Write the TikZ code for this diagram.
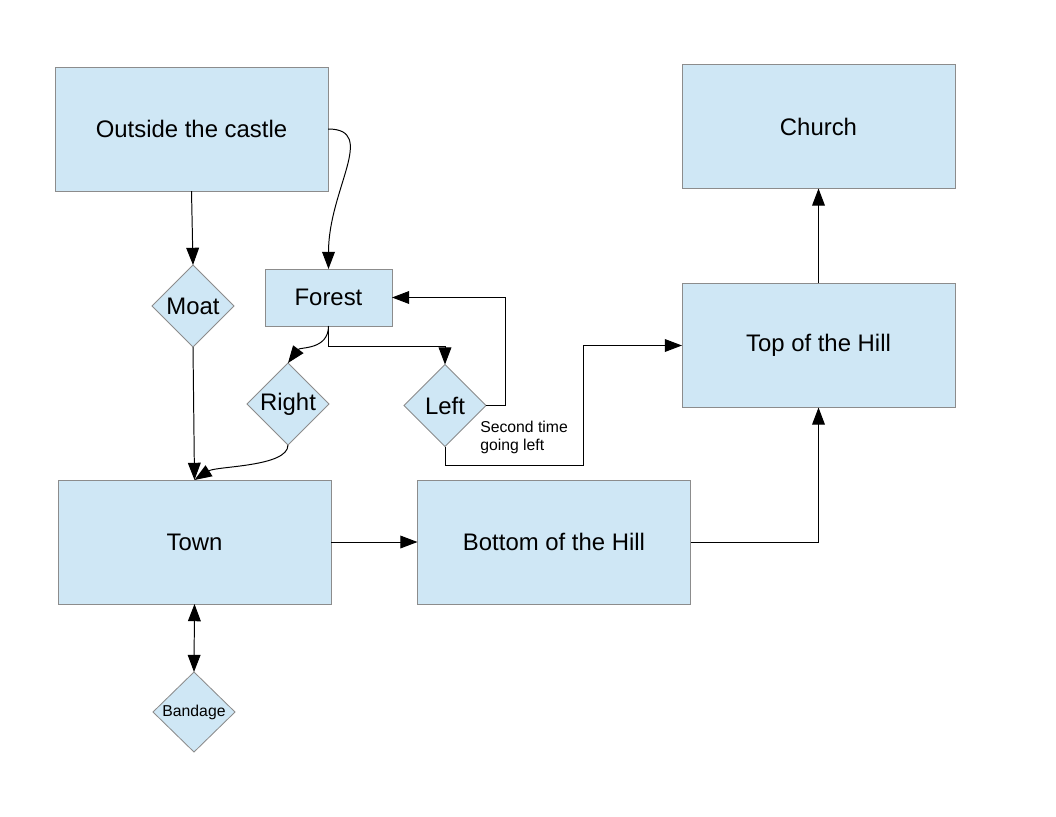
\documentclass[tikz,border=0pt]{standalone}
\usepackage{fontspec}
\setmainfont{Liberation Sans}
\usepackage{tikz}
\usetikzlibrary{shapes.geometric, arrows.meta}
\definecolor{boxfill}{HTML}{CFE7F5}
\definecolor{boxline}{HTML}{8C8C8C}

\begin{document}
\begin{tikzpicture}[x = 0.025cm, y = -0.025cm,
        >={Triangle[length = 0.43cm, width = 0.32cm]},
        place/.style = {draw = boxline, fill = boxfill, line width = 0.6pt, outer sep = 0pt,
            inner sep = 2pt, font = \fontsize{17}{20}\selectfont},
        bigplace/.style = {place, minimum width = 6.825cm, minimum height = 3.1cm},
        choice/.style = {place, diamond, aspect = 1, inner sep = 0pt, minimum width = 2.05cm, minimum height = 2.05cm},
        link/.style = {line width = 0.7pt, ->}
    ]
        \useasboundingbox (0, 0) rectangle (1056, 816);

        \node[bigplace] (outside) at (191.5, 129) {Outside the castle};
        \node[bigplace] (church) at (818.5, 126.5) {Church};
        \node[place, minimum width = 3.175cm, minimum height = 1.425cm] (forest) at (328.5, 297.5) {Forest};
        \node[choice] (moat) at (193, 306) {Moat};
        \node[choice] (right) at (288, 404) {Right};
        \node[choice] (left) at (445, 405.5) {Left};
        \node[bigplace] (top) at (818.5, 345.5) {Top of the Hill};
        \node[bigplace] (town) at (194.5, 542) {Town};
        \node[bigplace] (bottom) at (554, 542) {Bottom of the Hill};
        \node[choice, minimum height = 2cm, font = \fontsize{11.2}{13}\selectfont] (bandage) at (194, 712) {Bandage};

        \node[anchor = west, align = left, inner sep = 0pt, font = \fontsize{11.2}{12.8}\selectfont] (second) at (480, 437) {Second time\\going left};

        \draw[link] (outside.east) .. controls +(50, 0) and +(0, -80) .. (forest.north);
        \draw[link] (outside.south) -- (moat.north);
        \draw[link] (moat.south) -- (town.north);
        \draw[link] (forest.south) .. controls +(0, 24) and +(12, -16) .. (right.north);
        \draw[link] (forest.south) -- ++(0, 20) -| (left.north);
        \draw[link] (left.east) -- ++(19, 0) |- (forest.east);
        \draw[link] (left.south) |- (583, 465) |- (top.west);
        \draw[link] (right.south) .. controls +(0, 22) and +(22, -14) .. (town.north);
        \draw[link] (town.east) -- (bottom.west);
        \draw[link] (bottom.east) -| (top.south);
        \draw[link] (top.north) -- (church.south);
        \draw[link, <->] (town.south) -- (bandage.north);

    \end{tikzpicture}
\end{document}
